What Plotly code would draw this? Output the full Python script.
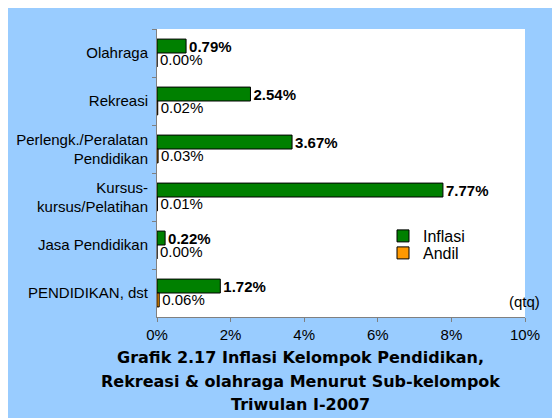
import plotly.graph_objects as go

categories = ["Olahraga", "Rekreasi", "Perlengk./Peralatan<br>Pendidikan",
              "Kursus-<br>kursus/Pelatihan", "Jasa Pendidikan", "PENDIDIKAN, dst"]
inflasi = [0.79, 2.54, 3.67, 7.77, 0.22, 1.72]
andil = [0.00, 0.02, 0.03, 0.01, 0.00, 0.06]
x_ticks = [0, 2, 4, 6, 8, 10]
x_tick_labels = ["0%", "2%", "4%", "6%", "8%", "10%"]
title_lines = ["Grafik 2.17 Inflasi Kelompok Pendidikan,",
               "Rekreasi & olahraga Menurut Sub-kelompok",
               "Triwulan I-2007"]

OFF = 8  # page body margin
W, H = 560 - OFF, 418 - OFF
L, R, T, B = 157, 525, 29, 317  # page pixels of plot area
pw, ph = R - L, B - T

def px(x):
    return (x - L) / pw

def py(y):
    return (B - y) / ph

FONT = "Liberation Sans, Arial, sans-serif"
TFONT = "DejaVu Sans, Liberation Sans, sans-serif"

fig = go.Figure()
fig.add_trace(go.Bar(
    y=categories, x=inflasi, orientation="h", name="Inflasi", legend="legend",
    marker=dict(color="#008000", line=dict(color="#000000", width=1)),
    text=[f"<b>{v:.2f}%</b>" for v in inflasi], textposition="outside",
    textfont=dict(family=FONT, size=15, color="#000000"),
    constraintext="none", cliponaxis=False,
))
fig.add_trace(go.Bar(
    y=categories, x=andil, orientation="h", name="Andil", legend="legend2",
    marker=dict(color="#FF9900", line=dict(color="#000000", width=1)),
    text=[f"{v:.2f}%" for v in andil], textposition="outside",
    textfont=dict(family=FONT, size=15, color="#000000"),
    constraintext="none", cliponaxis=False,
))

annotations = [dict(text="(qtq)", x=px(524), y=py(301), xref="paper", yref="paper",
                    xanchor="center", yanchor="middle",
                    showarrow=False, font=dict(family=FONT, size=15, color="#000000"))]
for yy, line in zip([357, 381, 404], title_lines):
    annotations.append(dict(text=f"<b>{line}</b>", x=px(300), y=py(yy), xref="paper", yref="paper",
                            xanchor="center", yanchor="middle",
                            showarrow=False, font=dict(family=TFONT, size=16, color="#000000")))

leg_common = dict(xanchor="left", yanchor="middle", bgcolor="rgba(0,0,0,0)",
                  font=dict(family=FONT, size=16, color="#000000"), itemwidth=30)

fig.update_layout(
    width=W, height=H,
    margin=dict(l=L - OFF, r=W - (R - OFF), t=T - OFF, b=H - (B - OFF), pad=0),
    paper_bgcolor="#99CCFF", plot_bgcolor="#FFFFFF",
    barmode="group", bargap=0.42, bargroupgap=0,
    font=dict(family=FONT, size=15, color="#000000"),
    showlegend=True,
    legend=dict(x=px(383), y=py(236), **leg_common),
    legend2=dict(x=px(383), y=py(253), **leg_common),
    xaxis=dict(range=[0, 10], tickvals=x_ticks, ticktext=x_tick_labels, automargin=False,
               showgrid=False, zeroline=False, showline=True, linecolor="#808080", linewidth=1,
               ticks="outside", ticklen=4, tickcolor="#808080",
               tickfont=dict(family=FONT, size=15, color="#000000")),
    yaxis=dict(autorange="reversed", showgrid=False, zeroline=False, showline=True, automargin=False,
               linecolor="#808080", linewidth=1, ticks="outside", ticklen=4, tickcolor="#808080",
               tickson="boundaries", ticklabelstandoff=5,
               tickfont=dict(family=FONT, size=15, color="#000000")),
    annotations=annotations,
)

fig.write_html("out.html")
